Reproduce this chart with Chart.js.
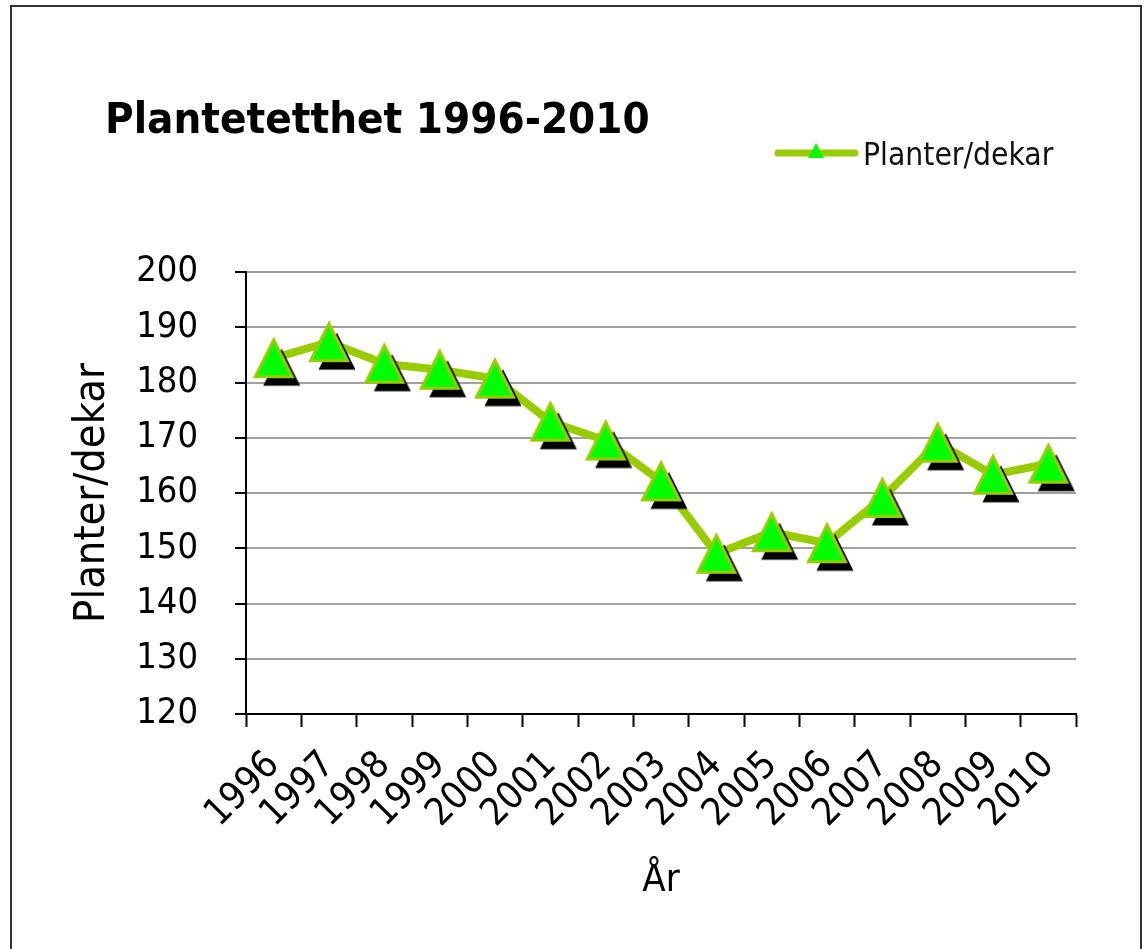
<!DOCTYPE html>
<html><head><meta charset="utf-8">
<script src="https://cdn.jsdelivr.net/npm/chart.js@4.4.1/dist/chart.umd.min.js"></script>
<style>html,body{margin:0;padding:0;background:#fff;overflow:hidden}#wrap{width:1147px;height:949px;position:relative}</style>
</head><body><div id="wrap"><canvas id="c" width="1147" height="949"></canvas></div>
<script>
const years = ['1996','1997','1998','1999','2000','2001','2002','2003','2004','2005','2006','2007','2008','2009','2010'];
const plantsPerDecare = [184.4,187.3,183.4,182.3,180.7,172.9,169.5,162.1,149.0,152.9,150.9,159.1,169.1,163.3,165.3];
const yTicks = [120,130,140,150,160,170,180,190,200];
const titleText = 'Plantetetthet 1996-2010';
const seriesName = 'Planter/dekar';
const yTitleText = 'Planter/dekar';
const xTitleText = 'År';

const FAM = "'DejaVu Sans Condensed','DejaVu Sans',sans-serif";
const LINE = '#99cc00';
const FILL = '#00ff00';

function makeMarker(){
  const c = document.createElement('canvas'); c.width = 88; c.height = 88;
  const g = c.getContext('2d'); const cx = 44, cy = 44, h = 18.5;
  const tri = (dx, dy) => { g.beginPath(); g.moveTo(cx+dx, cy-h+dy); g.lineTo(cx+h+dx, cy+h+dy); g.lineTo(cx-h+dx, cy+h+dy); g.closePath(); };
  tri(8, 9); g.fillStyle = '#000'; g.fill();
  tri(0, 0); g.fillStyle = FILL; g.fill(); g.lineWidth = 3; g.strokeStyle = LINE; g.lineJoin = 'miter'; g.stroke();
  return c;
}
const marker = makeMarker();

const decor = {
  id: 'decor',
  beforeDraw(chart){
    const ctx = chart.ctx;
    ctx.save();
    ctx.strokeStyle = '#333'; ctx.lineWidth = 2;
    ctx.strokeRect(11, 6, 1130, 960);
    ctx.restore();
  },
  afterDraw(chart){
    const ctx = chart.ctx;
    ctx.save();
    // title
    let size = 44;
    ctx.font = `bold ${size}px ${FAM}`;
    const w = ctx.measureText(titleText).width;
    size = size * 545 / w;
    ctx.font = `bold ${size}px ${FAM}`;
    ctx.fillStyle = '#000'; ctx.textBaseline = 'alphabetic'; ctx.textAlign = 'left';
    ctx.fillText(titleText, 105, 133);
    // legend
    ctx.strokeStyle = LINE; ctx.lineWidth = 7; ctx.lineCap = 'round';
    ctx.beginPath(); ctx.moveTo(778, 153); ctx.lineTo(855, 153); ctx.stroke();
    ctx.beginPath(); ctx.moveTo(816, 143); ctx.lineTo(824, 158); ctx.lineTo(808, 158); ctx.closePath();
    ctx.fillStyle = FILL; ctx.fill();
    ctx.fillStyle = '#111'; ctx.font = `31.5px ${FAM}`;
    ctx.fillText(seriesName, 863, 165);
    ctx.restore();
  }
};

new Chart(document.getElementById('c'), {
  type: 'line',
  data: {
    labels: years,
    datasets: [{
      label: seriesName,
      data: plantsPerDecare,
      borderColor: LINE,
      borderWidth: 8,
      tension: 0,
      pointStyle: marker,
      pointRadius: 20,
      pointHoverRadius: 20
    }]
  },
  options: {
    responsive: false,
    animation: false,
    devicePixelRatio: 1,
    events: [],
    layout: { padding: { top: 272, right: 71, left: 0, bottom: 0 } },
    plugins: { legend: { display: false }, title: { display: false }, tooltip: { enabled: false } },
    scales: {
      x: {
        type: 'category',
        offset: true,
        grid: { offset: true, drawOnChartArea: false, tickLength: 13, tickColor: '#000', tickWidth: 2 },
        border: { color: '#000', width: 2 },
        ticks: { autoSkip: false, minRotation: 45, maxRotation: 45, padding: 16, color: '#000', font: { family: FAM, size: 38 } },
        title: { display: true, text: xTitleText, color: '#000', font: { family: FAM, size: 38 }, padding: { top: 0, bottom: 45 } },
        afterFit(s){ s.height = 235; }
      },
      y: {
        min: 120, max: 200,
        afterBuildTicks(s){ s.ticks = yTicks.map(v => ({ value: v })); },
        grid: { color: '#a0a0a0', lineWidth: 2, tickLength: 11, tickColor: '#000', tickWidth: 2 },
        border: { color: '#000', width: 2 },
        ticks: { padding: 37, color: '#000', font: { family: FAM, size: 36 } },
        title: { display: true, text: yTitleText, color: '#000', font: { family: FAM, size: 43 }, padding: { top: 67, bottom: 0 } },
        afterFit(s){ s.width = 246; }
      }
    }
  },
  plugins: [decor]
});
</script></body></html>
